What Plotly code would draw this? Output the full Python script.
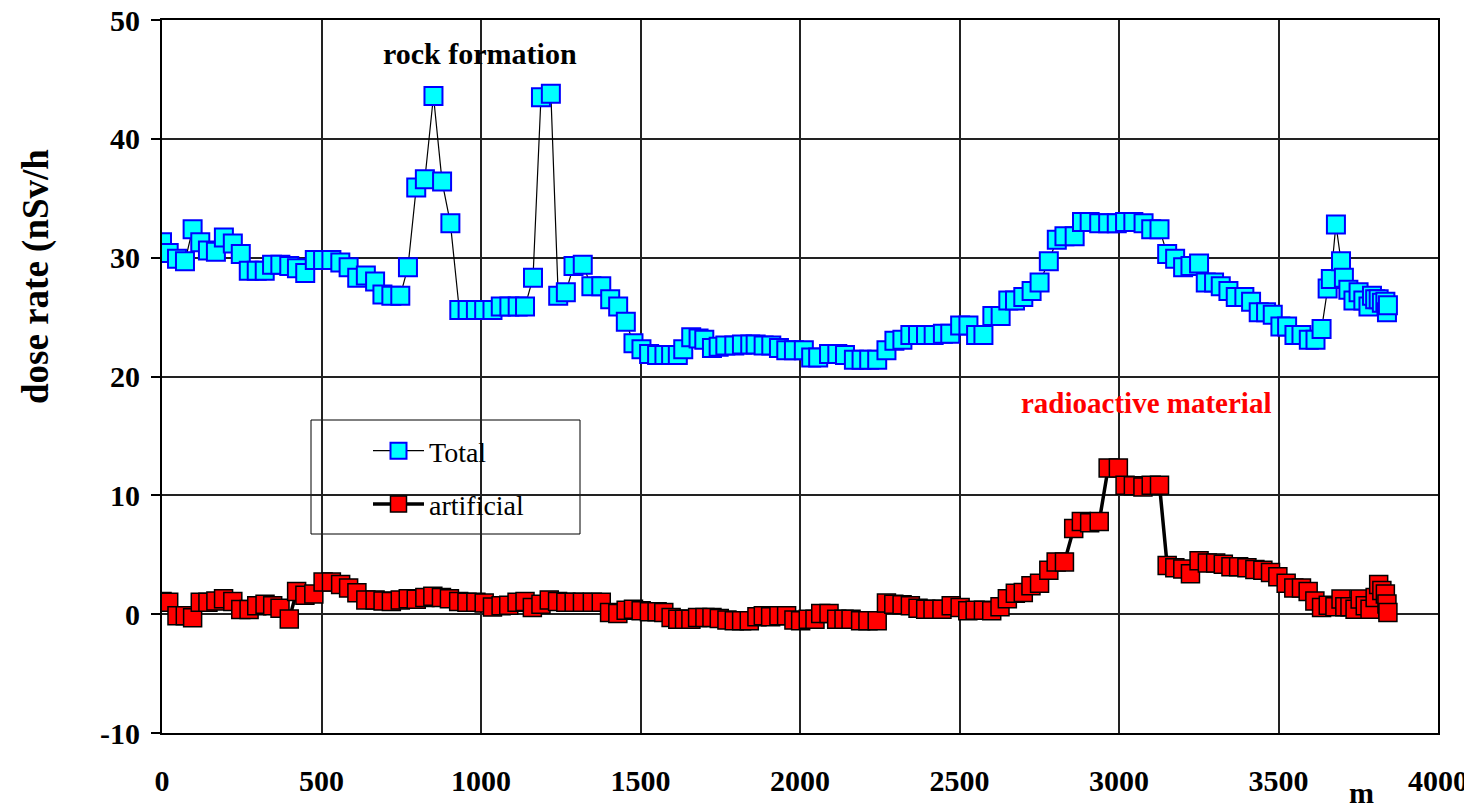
import plotly.graph_objects as go

# Distance along route (m) and dose rates (nSv/h)
total_x = [0, 21, 47, 72, 96, 120, 144, 169, 194, 222, 247, 272, 297, 322, 345, 371, 399, 423, 449, 479,
           505, 531, 559, 585, 612, 639, 668, 691, 719, 747, 771, 797, 824, 851, 878, 904, 932, 958, 984, 1010,
           1036, 1062, 1089, 1115, 1138, 1163, 1188, 1219, 1242, 1266, 1290, 1319, 1346, 1377, 1405, 1430, 1454, 1478, 1503, 1527,
           1552, 1575, 1596, 1617, 1634, 1659, 1682, 1700, 1724, 1745, 1766, 1794, 1818, 1844, 1861, 1886, 1910, 1934, 1957, 1981,
           2012, 2035, 2057, 2091, 2117, 2141, 2169, 2193, 2217, 2242, 2271, 2296, 2321, 2346, 2370, 2395, 2419, 2448, 2471, 2502,
           2528, 2552, 2575, 2603, 2629, 2653, 2674, 2700, 2726, 2751, 2780, 2805, 2829, 2861, 2884, 2908, 2938, 2966, 2993, 3019,
           3045, 3077, 3101, 3127, 3151, 3176, 3201, 3224, 3251, 3272, 3298, 3319, 3343, 3366, 3393, 3414, 3438, 3461, 3482, 3506,
           3527, 3550, 3572, 3595, 3616, 3635, 3654, 3664, 3680, 3696, 3705, 3719, 3735, 3751, 3766, 3782, 3793, 3803, 3814, 3824,
           3835, 3840, 3843]
total_y = [31.3, 30.4, 29.9, 29.7, 32.4, 31.3, 30.6, 30.5, 31.7, 31.2, 30.3, 28.9, 28.9, 28.9, 29.4, 29.4, 29.3, 29.1, 28.7, 29.8,
           29.8, 29.8, 29.6, 29.2, 28.3, 28.5, 28.0, 26.9, 26.8, 26.8, 29.2, 35.9, 36.6, 43.6, 36.4, 32.9, 25.6, 25.6, 25.6, 25.6,
           25.6, 25.9, 25.9, 25.9, 25.9, 28.3, 43.5, 43.8, 26.8, 27.1, 29.3, 29.4, 27.6, 27.6, 26.5, 25.9, 24.6, 22.8, 22.3, 21.9,
           21.8, 21.8, 21.8, 21.8, 22.3, 23.3, 23.2, 23.1, 22.4, 22.5, 22.6, 22.6, 22.7, 22.7, 22.7, 22.6, 22.6, 22.4, 22.2, 22.2,
           22.2, 21.6, 21.6, 21.9, 21.9, 21.8, 21.4, 21.4, 21.4, 21.4, 22.2, 23.0, 23.1, 23.5, 23.5, 23.5, 23.5, 23.6, 23.6, 24.3,
           24.3, 23.5, 23.5, 25.1, 25.1, 26.4, 26.4, 26.7, 27.2, 27.9, 29.7, 31.5, 31.8, 31.8, 33.0, 33.0, 32.9, 32.9, 32.9, 33.0,
           33.0, 32.9, 32.4, 32.4, 30.3, 29.9, 29.2, 29.3, 29.5, 27.9, 27.9, 27.6, 27.2, 26.7, 26.7, 26.3, 25.4, 25.4, 25.2, 24.2,
           24.2, 23.5, 23.5, 23.1, 23.1, 24.0, 27.4, 28.2, 32.8, 29.7, 28.3, 27.3, 26.4, 27.1, 26.4, 25.9, 26.8, 26.5, 26.5, 26.2,
           26.3, 25.4, 26.0]

artificial_x = [0, 21, 47, 73, 96, 120, 144, 169, 193, 222, 247, 273, 297, 323, 347, 370, 399, 422, 448, 476,
                505, 531, 560, 585, 611, 639, 668, 693, 719, 747, 772, 797, 824, 849, 876, 901, 930, 956, 984, 1010,
                1036, 1063, 1087, 1113, 1138, 1161, 1188, 1214, 1240, 1266, 1292, 1318, 1349, 1377, 1403, 1429, 1455, 1478, 1502, 1528,
                1552, 1573, 1596, 1617, 1638, 1658, 1679, 1702, 1724, 1747, 1771, 1794, 1817, 1841, 1865, 1885, 1908, 1934, 1958, 1981,
                2002, 2026, 2047, 2065, 2091, 2115, 2138, 2160, 2190, 2213, 2242, 2271, 2294, 2320, 2346, 2370, 2394, 2417, 2445, 2474,
                2502, 2526, 2549, 2575, 2601, 2627, 2650, 2675, 2700, 2724, 2751, 2780, 2803, 2829, 2858, 2882, 2908, 2938, 2966, 2998,
                3019, 3045, 3075, 3101, 3127, 3151, 3175, 3200, 3224, 3251, 3277, 3303, 3327, 3351, 3375, 3401, 3426, 3451, 3475, 3498,
                3524, 3548, 3572, 3593, 3614, 3635, 3656, 3677, 3696, 3708, 3724, 3740, 3756, 3772, 3787, 3803, 3814, 3824, 3835, 3840,
                3843]
artificial_y = [1.07, 1.0, -0.14, -0.14, -0.3, 1.0, 1.0, 1.1, 1.3, 1.07, 0.4, 0.4, 0.7, 0.84, 0.7, 0.5, -0.4, 1.9, 1.6, 1.7,
                2.7, 2.7, 2.5, 2.2, 1.8, 1.2, 1.2, 1.1, 1.07, 1.2, 1.3, 1.26, 1.4, 1.5, 1.4, 1.3, 1.07, 1.0, 1.0, 0.93,
                0.6, 0.7, 0.76, 1.0, 1.07, 0.56, 0.84, 1.2, 1.07, 1.0, 1.0, 1.0, 1.0, 1.0, 0.14, 0.06, 0.34, 0.42, 0.28, 0.2,
                0.2, 0.14, -0.28, -0.42, -0.42, -0.42, -0.28, -0.28, -0.28, -0.37, -0.5, -0.56, -0.56, -0.56, -0.22, -0.14, -0.22, -0.14, -0.14, -0.5,
                -0.56, -0.42, -0.42, 0.06, 0.06, -0.42, -0.42, -0.42, -0.56, -0.56, -0.56, 0.93, 0.84, 0.79, 0.7, 0.5, 0.42, 0.42, 0.42, 0.7,
                0.56, 0.28, 0.34, 0.34, 0.28, 0.62, 1.3, 1.75, 1.83, 2.4, 2.6, 3.7, 4.4, 4.4, 7.2, 7.8, 7.7, 7.8, 12.3, 12.3,
                10.85, 10.8, 10.7, 10.85, 10.85, 4.1, 3.9, 3.8, 3.4, 4.5, 4.3, 4.3, 4.2, 4.0, 4.0, 3.9, 3.75, 3.7, 3.5, 3.15,
                2.6, 2.2, 2.2, 1.9, 1.1, 0.56, 0.76, 0.62, 1.27, 0.62, 0.62, 0.42, 1.27, 0.7, 0.42, 1.4, 2.5, 2.0, 1.7, 0.85,
                0.15]

x_ticks = [0, 500, 1000, 1500, 2000, 2500, 3000, 3500, 4000]
y_ticks = [-10, 0, 10, 20, 30, 40, 50]

SERIF = "Liberation Serif, Times New Roman, serif"

fig = go.Figure()
fig.add_trace(go.Scatter(
    x=total_x, y=total_y, name="Total", mode="lines+markers", legendgroup="t",
    line=dict(color="black", width=1.2),
    marker=dict(symbol="square", size=18, color="#00FFFF", line=dict(color="#0000FF", width=2)),
))
fig.add_trace(go.Scatter(
    x=artificial_x, y=artificial_y, name="artificial", mode="lines+markers", legendgroup="a",
    line=dict(color="black", width=3.5),
    marker=dict(symbol="square", size=18, color="#FF0000", line=dict(color="black", width=1.5)),
))

# The page body has an 8px default margin, so the figure is sized 8px smaller
fig.update_layout(
    width=1464, height=800,
    margin=dict(l=154, r=34, t=12, b=75, autoexpand=False),
    paper_bgcolor="white", plot_bgcolor="white",
    font=dict(family=SERIF, color="black"),
    showlegend=True,
    legend=dict(
        x=(368 - 162) / 1276, xanchor="left",
        y=(733 - 426) / 713, yanchor="top",
        bgcolor="rgba(0,0,0,0)", borderwidth=0,
        font=dict(family=SERIF, size=28, color="black"),
        itemwidth=51, tracegroupgap=14,
    ),
    xaxis=dict(
        range=[0, 4000], tickvals=x_ticks, ticktext=[str(v) for v in x_ticks],
        showgrid=True, gridcolor="#222222", gridwidth=1.5,
        showline=True, linecolor="black", linewidth=1.5, mirror=True,
        ticks="", zeroline=False, automargin=False, ticklabeloverflow="allow",
        tickfont=dict(family=SERIF, size=30, color="black", weight="bold"),
        ticklabelstandoff=20,
    ),
    yaxis=dict(
        range=[-10, 50], tickvals=y_ticks, ticktext=[str(v) for v in y_ticks],
        showgrid=True, gridcolor="#222222", gridwidth=1.5,
        showline=True, linecolor="black", linewidth=2, mirror=True,
        ticks="outside", ticklen=9, tickcolor="black", tickwidth=1.5,
        zeroline=False, automargin=False, ticklabeloverflow="allow",
        tickfont=dict(family=SERIF, size=30, color="black", weight="bold"),
        ticklabelstandoff=5,
    ),
    shapes=[dict(
        type="rect", xref="paper", yref="paper", layer="between",
        x0=(311 - 162) / 1276, x1=(580 - 162) / 1276,
        y0=(733 - 534) / 713, y1=(733 - 420) / 713,
        line=dict(color="black", width=1), fillcolor="white",
    )],
    annotations=[
        dict(text="<b>rock formation</b>", x=997, y=47.2, xref="x", yref="y",
             showarrow=False, font=dict(family=SERIF, size=30, color="black")),
        dict(text="<b>radioactive material</b>", x=3085, y=17.8, xref="x", yref="y",
             showarrow=False, font=dict(family=SERIF, size=29, color="#FF0000")),
        dict(text="<b>dose rate (nSv/h</b>", x=(36 - 162) / 1276, y=(733 - 277) / 713,
             xref="paper", yref="paper", textangle=-90, showarrow=False,
             xanchor="center", yanchor="middle",
             font=dict(family=SERIF, size=37, color="black")),
        dict(text="<b>m</b>", x=(1361 - 162) / 1276, y=(733 - 792) / 713,
             xref="paper", yref="paper", showarrow=False, xanchor="center", yanchor="middle",
             font=dict(family=SERIF, size=30, color="black")),
    ],
)

fig.write_html("out.html")
